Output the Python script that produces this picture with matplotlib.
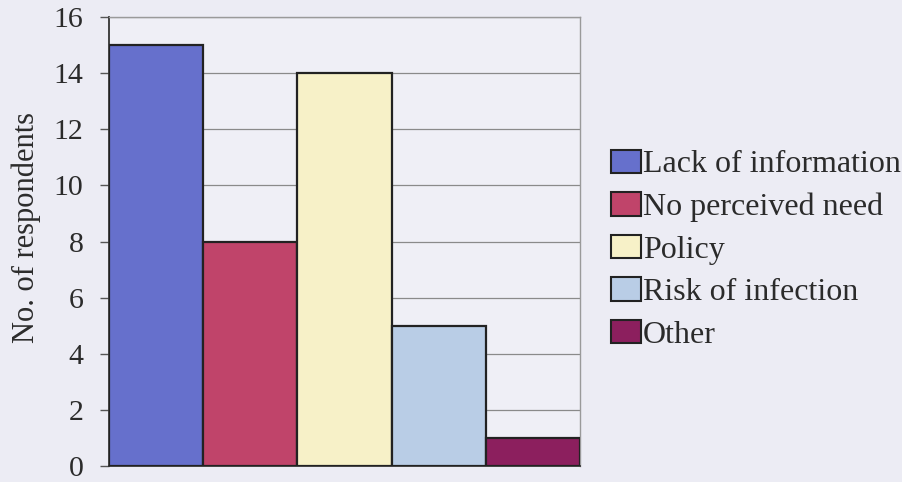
import matplotlib
matplotlib.use("Agg")
import matplotlib.pyplot as plt
from matplotlib.patches import Patch

categories = ["Lack of information", "No perceived need", "Policy", "Risk of infection", "Other"]
values = [15, 8, 14, 5, 1]
colors = ["#6670CC", "#C0446A", "#F7F1C8", "#B9CDE6", "#8C1F5E"]
yticks = [0, 2, 4, 6, 8, 10, 12, 14, 16]

plt.rcParams['font.family'] = ['Liberation Serif', 'DejaVu Serif']
bg = "#ECECF4"
txt = "#2b2b2b"

fig = plt.figure(figsize=(9.03, 4.82), dpi=100, facecolor=bg)
ax = fig.add_axes([0.1207, 0.0332, 0.5216, 0.9315])
ax.set_facecolor("#EFEFF6")

x = list(range(len(values)))
ax.bar(x, values, width=1.0, color=colors, edgecolor="#222222", linewidth=1.6, zorder=3)

ax.set_xlim(-0.5, len(values) - 0.5)
ax.set_ylim(0, 16)
ax.set_yticks(yticks)
ax.set_yticklabels([str(t) for t in yticks], fontsize=21.5, color=txt)
ax.set_xticks([])
ax.yaxis.grid(True, color="#8a8a8a", linewidth=0.9, zorder=0)
ax.tick_params(axis='y', direction='out', length=6.5, width=1, color="#555555", pad=12)

for s in ["top", "right"]:
    ax.spines[s].set_color("#9a9a9a")
    ax.spines[s].set_linewidth(1.0)
ax.spines["left"].set_color("#333333")
ax.spines["left"].set_linewidth(1.3)
ax.spines["bottom"].set_color("#333333")
ax.spines["bottom"].set_linewidth(1.3)

ax.set_ylabel("No. of respondents", fontsize=22, color=txt)
ax.yaxis.set_label_coords(-0.144, 0.532)

handles = [Patch(facecolor=c, edgecolor="#222222", linewidth=1.5) for c in colors]
fig.legend(handles, categories, loc="center left", bbox_to_anchor=(0.659, 0.482),
           frameon=False, fontsize=23, handlelength=0.94, handleheight=0.75,
           handletextpad=0.06, labelspacing=0.4, borderpad=0, labelcolor=txt)

fig.savefig("out.png", dpi=100, facecolor=bg)
